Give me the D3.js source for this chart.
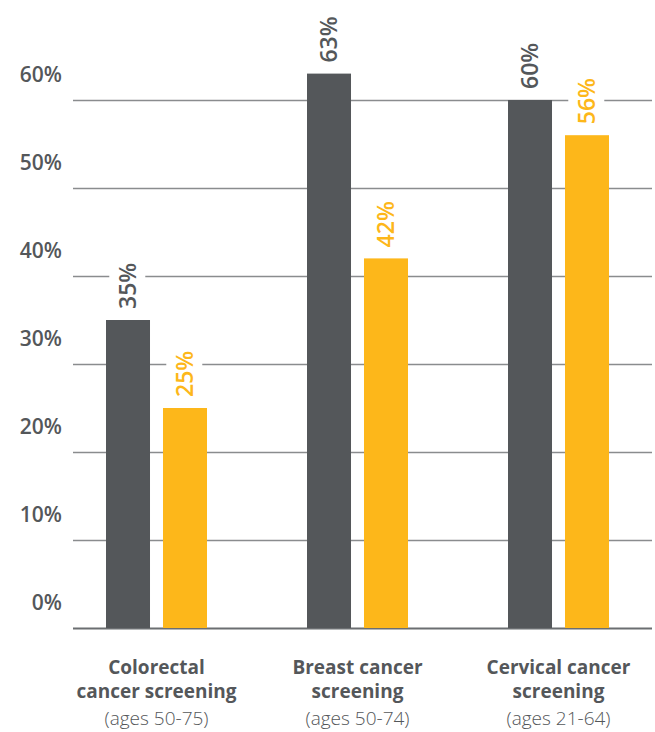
<!DOCTYPE html>
<html><head><meta charset="utf-8">
<script src="https://cdn.jsdelivr.net/npm/d3@7"></script>
<style>body{margin:0;background:#fff}</style>
</head><body>
<script>
const categories = ["Colorectal", "Breast", "Cervical"];
const labelLine1 = ["Colorectal", "Breast cancer", "Cervical cancer"];
const labelLine2 = ["cancer screening", "screening", "screening"];
const labelLine3 = ["(ages 50-75)", "(ages 50-74)", "(ages 21-64)"];
const series = ["s1", "s2"];
const values1 = [35, 63, 60];
const values2 = [25, 42, 56];
const yTicks = [0, 10, 20, 30, 40, 50, 60];

const W = 655, H = 732;
const colors = {s1: "#54575a", s2: "#fdb71a"};
const textGray = "#54575a";
const font = "'Open Sans', sans-serif";

const svg = d3.select("body").append("svg").attr("width", W).attr("height", H);

const y = d3.scaleLinear().domain([0, 60]).range([628, 100]);
const x0 = d3.scaleBand().domain(categories).range([56, 659]).paddingInner(0).paddingOuter(0);
const x1 = d3.scaleBand().domain(series).range([0, 101]).paddingInner(0.228).paddingOuter(0);
const groupOffset = (x0.bandwidth() - 101) / 2;

// gridlines
svg.append("g").selectAll("line").data(yTicks).join("line")
  .attr("x1", 73).attr("x2", 652)
  .attr("y1", d => Math.round(y(d)) + 0.5).attr("y2", d => Math.round(y(d)) + 0.5)
  .attr("stroke", d => d === 0 ? "#6b6e71" : "#8a8c8e").attr("stroke-width", d => d === 0 ? 2 : 1.3);

// y labels
svg.append("g").selectAll("text").data(yTicks).join("text")
  .attr("x", 62).attr("y", d => y(d) - 18)
  .attr("text-anchor", "end")
  .attr("font-family", font).attr("font-weight", 600).attr("font-size", 21)
  .attr("fill", textGray)
  .text(d => d + "%");

const rows = categories.map((c, i) => ({c, s1: values1[i], s2: values2[i]}));

const g = svg.append("g");
rows.forEach(r => {
  series.forEach(s => {
    const bx = x0(r.c) + groupOffset + x1(s);
    const bw = x1.bandwidth();
    g.append("rect")
      .attr("x", bx).attr("y", y(r[s]))
      .attr("width", bw).attr("height", y(0) - y(r[s]))
      .attr("fill", colors[s]);
    const cx = bx + bw / 2;
    const ty = y(r[s]) - 11;
    const lg = g.append("g").attr("transform", `translate(${cx},${ty}) rotate(-90)`);
    const t = lg.append("text")
      .attr("x", 0).attr("y", 0).attr("dy", "0.36em")
      .attr("font-family", font).attr("font-weight", 600).attr("font-size", 23)
      .attr("fill", colors[s])
      .text(r[s] + "%");
    const bb = t.node().getBBox();
    lg.insert("rect", "text")
      .attr("x", bb.x - 5).attr("y", bb.y - 2)
      .attr("width", bb.width + 10).attr("height", bb.height + 4)
      .attr("fill", "#fff");
  });
});

// category labels
const cl = svg.append("g").attr("font-family", font).attr("fill", textGray).attr("text-anchor", "middle");
categories.forEach((c, i) => {
  const cx = x0(c) + groupOffset + 50.5;
  cl.append("text").attr("x", cx).attr("y", 674).attr("font-weight", 700).attr("font-size", 19).text(labelLine1[i]);
  cl.append("text").attr("x", cx).attr("y", 698).attr("font-weight", 700).attr("font-size", 19).text(labelLine2[i]);
  cl.append("text").attr("x", cx).attr("y", 725).attr("font-weight", 300).attr("font-size", 19).text(labelLine3[i]);
});
</script>
</body></html>
